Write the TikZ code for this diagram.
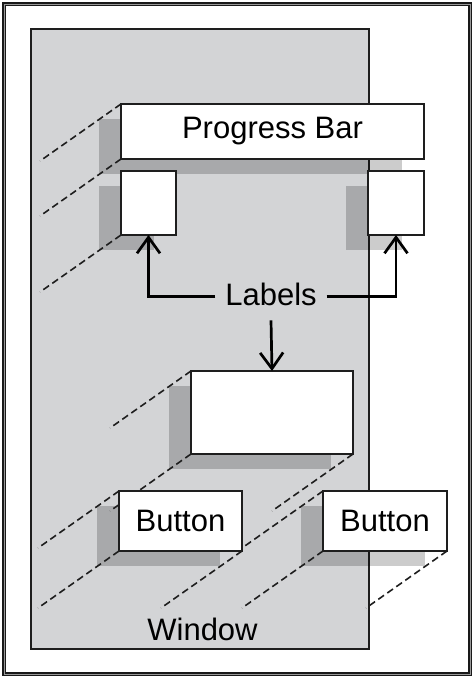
\documentclass[tikz,border=0pt]{standalone}
\usepackage{fontspec}
\setmainfont{Liberation Sans}
\usetikzlibrary{arrows.meta}
\definecolor{wingray}{RGB}{211,212,214}
\definecolor{ink}{RGB}{30,30,30}
\tikzset{
  widget/.style={draw=ink, line width=1.6pt, fill=white, inner sep=0pt, outer sep=0pt,
    font=\fontsize{31}{36}\selectfont},
  shade/.style={fill=black, fill opacity=0.2},
  proj/.style={draw=ink, line width=1.6pt, dash pattern=on 7pt off 4pt},
  arr/.style={draw=black, line width=2.7pt, -{Straight Barb[length=16pt,width=23pt,line width=2.7pt]}},
  lbl/.style={font=\fontsize{31}{36}\selectfont, inner sep=0pt, outer sep=0pt}
}
\begin{document}
\begin{tikzpicture}[x=1pt,y=-1pt]
\useasboundingbox (0,0) rectangle (474,677);
% outer frame
\draw[line width=1.5pt, double=black!40, double distance=1pt, draw=black!90] (4.4,4.4) rectangle (470,674);
% window
\draw[fill=wingray, draw=ink, line width=1.5pt] (31,29) rectangle (369,649);
\node[lbl, anchor=base] (win) at (202.5,640) {Window};

% invisible placeholders giving the widget outlines
\path
  node[widget, minimum width=303pt, minimum height=55pt, draw=none, fill=none] (pbarpos) at (272.5,131.5) {}
  node[widget, minimum width=55pt, minimum height=64pt, draw=none, fill=none] (lboxpos) at (148.5,203) {}
  node[widget, minimum width=56pt, minimum height=64pt, draw=none, fill=none] (rboxpos) at (396,203) {}
  node[widget, minimum width=162pt, minimum height=83pt, draw=none, fill=none] (mboxpos) at (272,412.5) {}
  node[widget, minimum width=123pt, minimum height=60pt, draw=none, fill=none] (btnapos) at (180.5,521) {}
  node[widget, minimum width=124pt, minimum height=60pt, draw=none, fill=none] (btnbpos) at (385,521) {};

% shadows
\foreach \n in {pbarpos,lboxpos,rboxpos,mboxpos,btnapos,btnbpos}{
  \fill[shade] ([shift={(-22,15)}]\n.south west) rectangle ([shift={(-22,15)}]\n.north east);
}

% projection lines
\foreach \c in {pbarpos.north west, pbarpos.south west, lboxpos.south west,
  mboxpos.north west, mboxpos.south west, mboxpos.south east,
  btnapos.north west, btnapos.south west, btnapos.south east,
  btnbpos.north west, btnbpos.south west, btnbpos.south east}{
  \draw[proj] (\c) -- ++(-81,57);
}

% widgets
\node[widget, minimum width=303pt, minimum height=55pt] (pbar) at (272.5,131.5) {Progress Bar};
\node[widget, minimum width=55pt, minimum height=64pt] (lbox) at (148.5,203) {};
\node[widget, minimum width=56pt, minimum height=64pt] (rbox) at (396,203) {};
\node[widget, minimum width=162pt, minimum height=83pt] (mbox) at (272,412.5) {};
\node[widget, minimum width=123pt, minimum height=60pt] (btna) at (180.5,521) {Button};
\node[widget, minimum width=124pt, minimum height=60pt] (btnb) at (385,521) {Button};

% labels and arrows
\node[lbl, anchor=base, inner xsep=10pt] (labels) at (271,305) {Labels};
\draw[arr] ([yshift=-2.5pt]labels.west) -| (lbox.south);
\draw[arr] ([yshift=-2.5pt]labels.east) -| (rbox.south);
\draw[arr] ([yshift=-15pt]labels.south) -- (mbox.north);
\end{tikzpicture}
\end{document}
